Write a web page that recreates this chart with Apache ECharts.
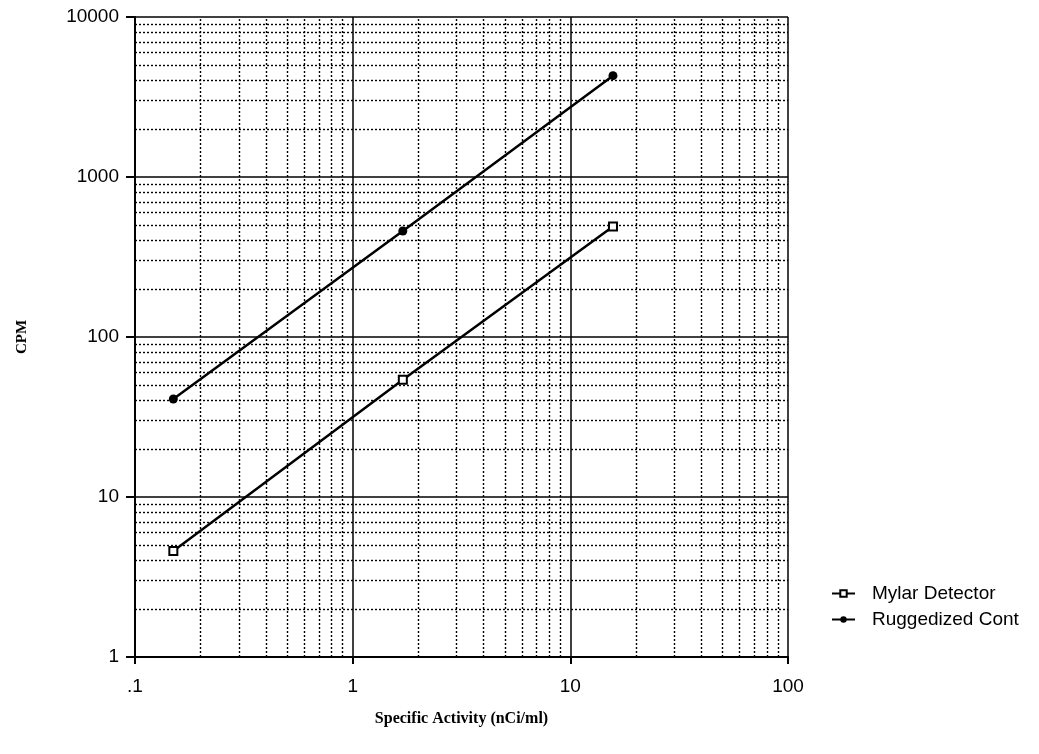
<!DOCTYPE html>
<html>
<head>
<meta charset="utf-8">
<script src="https://cdn.jsdelivr.net/npm/echarts@6/dist/echarts.min.js"></script>
<style>html,body{margin:0;padding:0;background:#fff}#c{width:1039px;height:754px}</style>
</head>
<body>
<div id="c"></div>
<script>
// Data
const activity = [0.15, 1.7, 15.7];           // nCi/ml
const mylarDetector = [4.6, 54, 490];         // CPM
const ruggedizedCont = [41, 460, 4300];       // CPM
const xTickLabels = {0.1: '.1', 1: '1', 10: '10', 100: '100'};
const yTickLabels = {1: '1', 10: '10', 100: '100', 1000: '1000', 10000: '10000'};
const minorMultipliers = [2, 3, 4, 5, 6, 7, 8, 9];
const xDecades = [0.1, 1, 10];
const yDecades = [1, 10, 100, 1000];

const xMinor = [];
xDecades.forEach(d => minorMultipliers.forEach(m => xMinor.push(+(d * m).toPrecision(6))));
const yMinor = [];
yDecades.forEach(d => minorMultipliers.forEach(m => yMinor.push(+(d * m).toPrecision(6))));

const chart = echarts.init(document.getElementById('c'));
const axisFont = {fontFamily: 'Liberation Sans, Arial, sans-serif', fontSize: 19, color: '#000'};
chart.setOption({
  animation: false,
  backgroundColor: '#fff',
  grid: {left: 135, right: 251, top: 17, bottom: 97, containLabel: false},
  xAxis: {
    type: 'log', logBase: 10, min: 0.1, max: 100,
    name: 'Specific Activity (nCi/ml)', nameLocation: 'middle', nameGap: 54,
    nameTextStyle: {fontFamily: 'Liberation Serif, Times New Roman, serif', fontWeight: 'bold', fontSize: 16, color: '#000'},
    axisLine: {show: true, onZero: false, lineStyle: {color: '#000', width: 2}},
    axisTick: {show: true, inside: false, length: 7, lineStyle: {color: '#000', width: 2}},
    axisLabel: Object.assign({margin: 20, formatter: v => xTickLabels[v] !== undefined ? xTickLabels[v] : ''}, axisFont),
    splitLine: {show: true, lineStyle: {color: '#000', width: 1.5, type: 'solid'}}
  },
  yAxis: {
    type: 'log', logBase: 10, min: 1, max: 10000,
    name: 'CPM', nameLocation: 'middle', nameGap: 105, nameRotate: 90,
    nameTextStyle: {fontFamily: 'Liberation Serif, Times New Roman, serif', fontWeight: 'bold', fontSize: 15, color: '#000'},
    axisLine: {show: true, onZero: false, lineStyle: {color: '#000', width: 2}},
    axisTick: {show: true, inside: false, length: 9, lineStyle: {color: '#000', width: 2}},
    axisLabel: Object.assign({margin: 16, formatter: v => yTickLabels[v] !== undefined ? yTickLabels[v] : ''}, axisFont),
    splitLine: {show: true, lineStyle: {color: '#000', width: 1.5, type: 'solid'}}
  },
  legend: {
    orient: 'vertical', left: 826, top: 579, itemGap: 7, itemWidth: 23, itemHeight: 8,
    textStyle: {fontFamily: 'Liberation Sans, Arial, sans-serif', fontSize: 19, color: '#000', padding: [0, 0, 0, 12]},
    data: ['Mylar Detector', 'Ruggedized Cont']
  },
  series: [
    {
      name: 'grid-minor', type: 'line', data: [], silent: true,
      markLine: {
        silent: true, symbol: 'none', label: {show: false},
        lineStyle: {color: '#000', width: 1.4, type: [2, 2]},
        data: xMinor.map(v => ({xAxis: v})).concat(yMinor.map(v => ({yAxis: v})))
      }
    },
    {
      name: 'Mylar Detector', type: 'line',
      data: activity.map((x, i) => [x, mylarDetector[i]]),
      symbol: 'emptyRect', symbolSize: 8,
      lineStyle: {color: '#000', width: 2.5},
      itemStyle: {color: '#000', borderColor: '#000', borderWidth: 2},
      z: 5
    },
    {
      name: 'Ruggedized Cont', type: 'line',
      data: activity.map((x, i) => [x, ruggedizedCont[i]]),
      symbol: 'circle', symbolSize: 9,
      lineStyle: {color: '#000', width: 2.5},
      itemStyle: {color: '#000'},
      z: 5
    }
  ]
});
</script>
</body>
</html>
